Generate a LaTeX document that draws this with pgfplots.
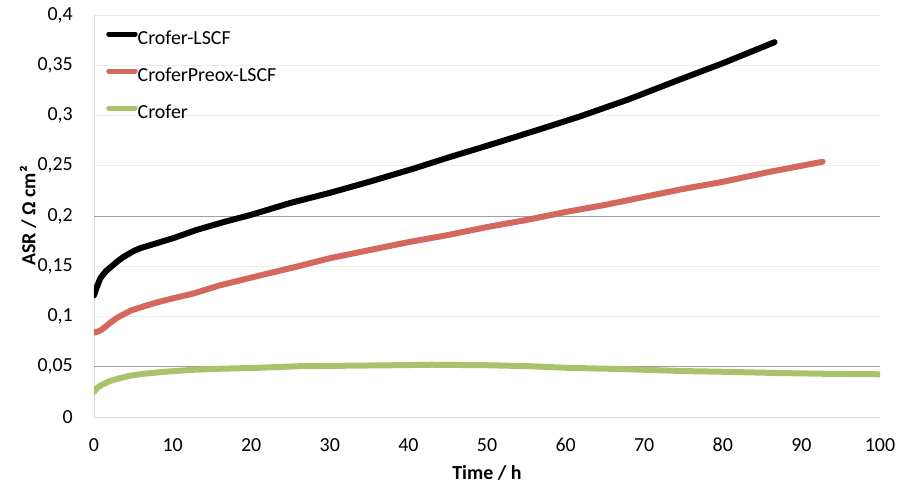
\documentclass[border=0pt]{standalone}
\usepackage{pgfplots}
\pgfplotsset{compat=1.18}
\usepackage{fontspec}
\setmainfont{Carlito}
\definecolor{cblack}{RGB}{0,0,0}
\definecolor{cred}{RGB}{212,104,95}
\definecolor{cgreen}{RGB}{168,196,106}
\definecolor{gridlight}{RGB}{236,236,236}
\definecolor{griddark}{RGB}{160,160,160}
\definecolor{axisgray}{RGB}{217,217,217}
\begin{document}
\begin{tikzpicture}
\path[use as bounding box] (-94bp,-66bp) rectangle (807bp,417bp);
\begin{axis}[
  scale only axis,
  width=786bp, height=402bp,
  xmin=0, xmax=100, ymin=0, ymax=0.4,
  xtick={0,10,...,100},
  ytick={0,0.05,0.1,0.15,0.2,0.25,0.3,0.35,0.4},
  extra y ticks={0.05,0.2},
  extra y tick labels={},
  extra y tick style={grid style={griddark, line width=0.8bp}},
  ymajorgrids,
  grid style={gridlight, line width=0.8bp},
  major tick length=0pt,
  axis x line*=bottom, axis y line*=left,
  axis line style={axisgray, line width=0.8bp, -},
  /pgf/number format/assume math mode=true,
  /pgf/number format/use comma,
  yticklabel style={/pgf/number format/fixed, /pgf/number format/precision=2, anchor=east, inner sep=0pt, xshift=-21bp, font=\fontsize{20}{24}\selectfont},
  xticklabel style={anchor=center, inner sep=0pt, yshift=-28bp, font=\fontsize{20}{24}\selectfont},
  xlabel={\textbf{Time / h}},
  ylabel={\textbf{ASR / Ω cm²}},
  xlabel style={font=\fontsize{20}{24}\selectfont, at={(axis description cs:0.5,-0.139)}, anchor=center},
  ylabel style={font=\fontsize{20}{24}\selectfont, at={(axis description cs:-0.084,0.5)}, anchor=center, rotate=0},
  legend style={draw=none, fill=none, at={(axis description cs:0.0153,0.963)}, anchor=north west,
    font=\fontsize{20}{24}\selectfont, inner sep=0pt, row sep=19bp, column sep=0bp,
    nodes={inner sep=0pt, text height=14bp, text depth=4bp}},
  legend cell align=left,
  legend image code/.code={\draw[#1, line width=5bp, line cap=round] (2.5bp,5bp) -- (29bp,5bp);},
  every axis plot/.append style={line width=6bp, line join=round, line cap=round},
]
\addplot[cblack] coordinates {
(0,0.121) (0.3,0.128) (0.8,0.138) (1.5,0.145) (2.1,0.149) (3,0.155) (3.7,0.159) (5,0.165) (5.9,0.168) (8,0.173) (10.1,0.178) (13,0.186) (16.5,0.194) (19.9,0.201) (25,0.213) (30,0.223) (35,0.234) (40.6,0.247) (45,0.258) (51.3,0.273) (57,0.287) (61.8,0.299) (68,0.316) (74.6,0.336) (80,0.352) (86.6,0.373)
};
\addlegendentry{Crofer-LSCF}
\addplot[cred] coordinates {
(0,0.084) (0.5,0.085) (1,0.087) (2.1,0.094) (3,0.099) (4.7,0.106) (6.3,0.110) (8,0.114) (10,0.118) (12.7,0.123) (16,0.131) (21.2,0.141) (26,0.150) (30,0.158) (35,0.166) (40,0.174) (45,0.181) (50,0.189) (55,0.196) (60,0.204) (65,0.211) (70,0.219) (75,0.227) (80,0.234) (86,0.244) (92.7,0.254)
};
\addlegendentry{CroferPreox-LSCF}
\addplot[cgreen] coordinates {
(0,0.025) (0.4,0.029) (1,0.032) (2.1,0.036) (3,0.038) (4.5,0.041) (6.3,0.043) (9,0.045) (12.7,0.047) (16,0.048) (21,0.049) (26,0.0505) (32,0.051) (38,0.0515) (43,0.052) (50,0.0515) (55.6,0.0505) (60,0.049) (65.4,0.048) (70,0.047) (75,0.0457) (80,0.045) (87.4,0.0437) (93,0.043) (100,0.0425)
};
\addlegendentry{Crofer}
\end{axis}
\end{tikzpicture}
\end{document}
